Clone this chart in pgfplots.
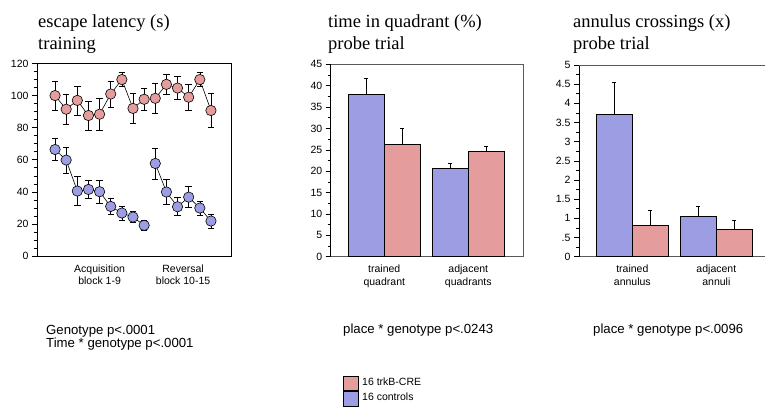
\documentclass[border=0pt]{standalone}
\usepackage{fontspec}
\setmainfont{Liberation Sans}
\newfontfamily\titleserif{Liberation Serif}
\usepackage{pgfplots}
\usepackage{pgfplotstable}
\pgfplotsset{compat=1.18}

\definecolor{creFill}{RGB}{229,156,156}
\definecolor{ctlFill}{RGB}{157,157,228}

% block  mean  sem
\pgfplotstableread{
x y e
1 100 9
2 91.5 9.5
3 97 9
4 87.6 9
5 88.4 10
6 101 8
7 110 4.3
8 92 9.3
9 97.7 7
}\creAcq
\pgfplotstableread{
x y e
10 98.3 9.5
11 107 6.5
12 104.7 7.3
13 99 8.3
14 110 4.3
15 90.7 10.5
}\creRev
\pgfplotstableread{
x y e
1 66.4 6.8
2 59.8 8
3 40.5 9
4 41.5 5.8
5 40.1 7
6 30.9 5.2
7 26.8 4.5
8 24.3 3.5
9 19.1 3
}\ctlAcq
\pgfplotstableread{
x y e
10 57.7 9.7
11 39.9 7.8
12 30.7 5.6
13 36.7 6.5
14 29.9 4.5
15 21.8 4.5
}\ctlRev

\newcommand{\lblfont}{\fontsize{10.5bp}{12.5bp}\selectfont}
\newcommand{\ttlfont}{\titleserif\fontsize{18.5bp}{21bp}\selectfont}
\newcommand{\notefont}{\fontsize{13.2bp}{13.5bp}\selectfont}

\pgfplotsset{
  panel/.style={
    scale only axis, anchor=south west,
    /pgf/number format/assume math mode=true,
    tick label style={font=\lblfont},
    ticklabel style={font=\lblfont},
    tick align=outside,
    major tick length=5bp, minor tick length=3bp,
    every tick/.style={black, line width=0.6bp},
    xtick style={draw=none},
    xticklabel style={align=center, font=\lblfont},
    axis line style={line width=0.7bp},
    clip=false,
  },
  barpanel/.style={
    panel,
    axis x line*=bottom, axis y line*=left,
    x axis line style={black!65},
    xtick={0,1},
    ybar, bar width=0.4286, bar shift=0pt,
    error bars/error bar style={black, line width=0.7bp},
    error bars/error mark options={rotate=90, mark size=2bp, line width=0.7bp},
  },
  ctlbar/.style={fill=ctlFill, draw=black, line width=0.6bp},
  crebar/.style={fill=creFill, draw=black, line width=0.6bp},
  dots/.style={black, line width=0.6bp, mark=*, mark size=5.2bp,
    mark options={fill=#1, draw=black, line width=0.6bp},
    error bars/.cd, y dir=both, y explicit,
    error bar style={black, line width=0.6bp},
    error mark options={rotate=90, mark size=3.2bp, line width=0.6bp}},
}

\begin{document}
\begin{tikzpicture}[x=1bp,y=1bp]
\useasboundingbox (0,0) rectangle (765,-408);

% ---- escape latency ----
\begin{axis}[panel,
  at={(37bp,-256bp)}, width=194bp, height=192.5bp,
  xmin=-0.62, xmax=16.8, ymin=0, ymax=120,
  ytick={0,20,...,120}, minor y tick num=3,
  xtick pos=bottom, ytick pos=left,
  xtick={5,12.5},
  xticklabels={{Acquisition\\block 1-9},{Reversal\\block 10-15}},
]
\addplot[dots=creFill] table[x=x, y=y, y error=e] {\creAcq};
\addplot[dots=creFill] table[x=x, y=y, y error=e] {\creRev};
\addplot[dots=ctlFill] table[x=x, y=y, y error=e] {\ctlAcq};
\addplot[dots=ctlFill] table[x=x, y=y, y error=e] {\ctlRev};
\end{axis}

% ---- time in quadrant ----
\begin{axis}[barpanel,
  at={(330.7bp,-256.7bp)}, width=193bp, height=192.4bp,
  xmin=-0.638, xmax=1.66, ymin=0, ymax=45,
  ytick={0,5,...,45}, minor y tick num=1,
  xticklabels={{trained\\quadrant},{adjacent\\quadrants}},
  reverse legend,
  legend style={at={(0.062,-0.6185)}, anchor=north west, draw=none,
    fill=none, inner sep=0pt, row sep=0pt, font=\lblfont,
    nodes={inner sep=0pt, text height=9bp, text depth=5.5bp}},
  legend image code/.code={\draw[#1] (0bp,-7.25bp) rectangle (14.7bp,7.25bp);},
  legend cell align=left,
]
\draw[black!65, line width=0.7bp] (rel axis cs:0,1) -- (rel axis cs:1,1) -- (rel axis cs:1,0);
\addplot[ctlbar, error bars/.cd, y dir=plus, y explicit]
  coordinates {(-0.2143,38.0) +- (0,3.65) (0.7857,20.7) +- (0,1.1)};
\addlegendentry{\hspace{4bp}16 controls}
\addplot[crebar, error bars/.cd, y dir=plus, y explicit]
  coordinates {(0.2143,26.2) +- (0,3.75) (1.2143,24.65) +- (0,1.1)};
\addlegendentry{\hspace{4bp}16 trkB-CRE}
\end{axis}

% ---- annulus crossings ----
\begin{axis}[barpanel,
  at={(579bp,-256.7bp)}, width=192bp, height=191.7bp,
  xmin=-0.635, xmax=1.651, ymin=0, ymax=5,
  ytick={0,0.5,...,5}, minor y tick num=1,
  yticklabels={0,.5,1,1.5,2,2.5,3,3.5,4,4.5,5},
  xticklabels={{trained\\annulus},{adjacent\\annuli}},
]
\draw[black!65, line width=0.7bp] (rel axis cs:0,1) -- (rel axis cs:1,1) -- (rel axis cs:1,0);
\addplot[ctlbar, error bars/.cd, y dir=plus, y explicit]
  coordinates {(-0.2143,3.71) +- (0,0.83) (0.7857,1.05) +- (0,0.26)};
\addplot[crebar, error bars/.cd, y dir=plus, y explicit]
  coordinates {(0.2143,0.817) +- (0,0.38) (1.2143,0.704) +- (0,0.244)};
\end{axis}

% ---- titles ----
\node[anchor=base west, inner sep=0pt, font=\ttlfont] at (38,-27.5) {escape latency (s)};
\node[anchor=base west, inner sep=0pt, font=\ttlfont] at (38,-49) {training};
\node[anchor=base west, inner sep=0pt, font=\ttlfont] at (328,-27.5) {time in quadrant (\%)};
\node[anchor=base west, inner sep=0pt, font=\ttlfont] at (328,-49) {probe trial};
\node[anchor=base west, inner sep=0pt, font=\ttlfont] at (573,-27.5) {annulus crossings (x)};
\node[anchor=base west, inner sep=0pt, font=\ttlfont] at (573,-49) {probe trial};

% ---- statistics ----
\node[anchor=base west, inner sep=0pt, font=\notefont] at (46,-334) {Genotype p<.0001};
\node[anchor=base west, inner sep=0pt, font=\notefont] at (46,-347.5) {Time * genotype p<.0001};
\node[anchor=base west, inner sep=0pt, font=\notefont] at (343,-333) {place * genotype p<.0243};
\node[anchor=base west, inner sep=0pt, font=\notefont] at (593,-333) {place * genotype p<.0096};
\end{tikzpicture}
\end{document}
